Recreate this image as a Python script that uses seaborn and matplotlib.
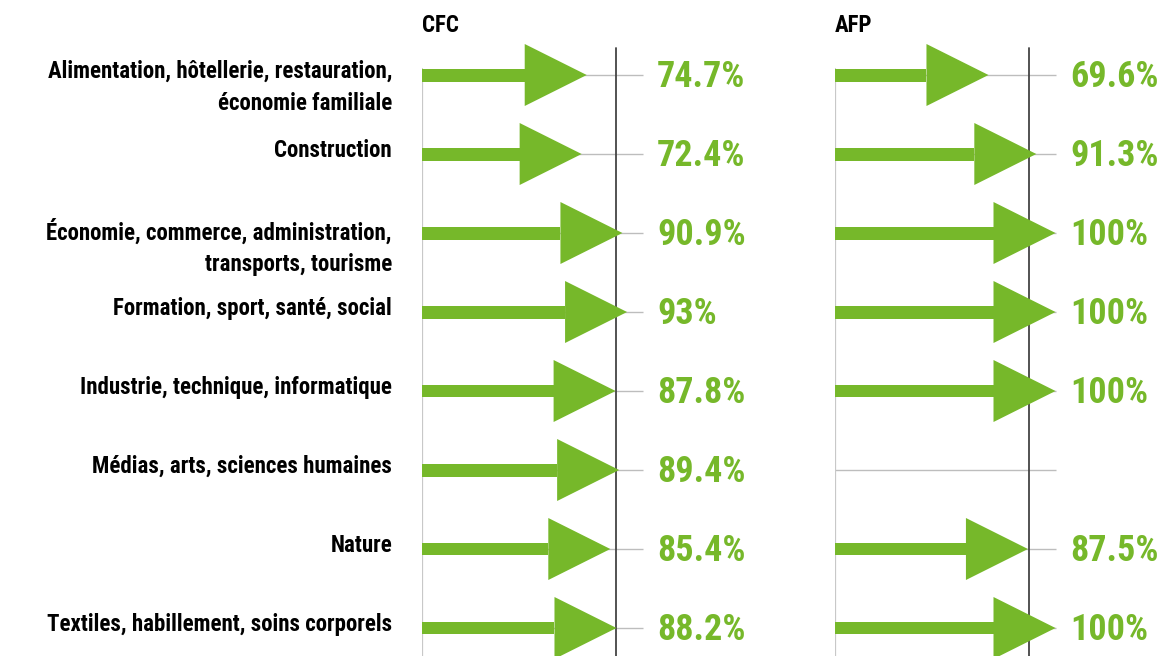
import numpy as np
import pandas as pd
import matplotlib
matplotlib.use("Agg")
import matplotlib.pyplot as plt
import seaborn as sns
from matplotlib import font_manager

categories = [
    "Alimentation, hôtellerie, restauration,\néconomie familiale",
    "Construction",
    "Économie, commerce, administration,\ntransports, tourisme",
    "Formation, sport, santé, social",
    "Industrie, technique, informatique",
    "Médias, arts, sciences humaines",
    "Nature",
    "Textiles, habillement, soins corporels",
]
cfc_values = [74.7, 72.4, 90.9, 93.0, 87.8, 89.4, 85.4, 88.2]
afp_values = [69.6, 91.3, 100.0, 100.0, 100.0, np.nan, 87.5, 100.0]
panel_titles = ["CFC", "AFP"]
ref_line = [87.8, 87.8]

sns.set_theme(style="white")
names = {f.name for f in font_manager.fontManager.ttflist}
FONT = "DejaVu Sans"
for cand in ["Liberation Sans Narrow", "Roboto Condensed", "Open Sans Condensed", "Liberation Sans"]:
    if cand in names:
        FONT = cand
        break
plt.rcParams["font.family"] = [FONT, "DejaVu Sans"]

GREEN = "#76b82a"
W, H = 1157, 656
fig = plt.figure(figsize=(W / 100, H / 100), dpi=100)

PX = 2.205          # pixels per percent
ROW = 79.0          # pixels per row
Y0 = 75.0           # pixel y of first row
HEAD_LEN = 62 / PX
HEAD_HALF = 31 / ROW
SHAFT = 13 / ROW

def py(p):
    return (p - Y0) / ROW

panels = [(422, 368, cfc_values), (835, W - 835, afp_values)]
for k, (left, width, vals) in enumerate(panels):
    ax = fig.add_axes([left / W, 0, width / W, 1])
    n = len(categories)
    df = pd.DataFrame({"cat": categories,
                       "shaft": [v - HEAD_LEN if not np.isnan(v) else np.nan for v in vals]})
    for i in range(n):
        ax.plot([0, 100], [i, i], color="#bdbdbd", lw=1.0, zorder=1, solid_capstyle="butt")
    sns.barplot(data=df, y="cat", x="shaft", order=categories, orient="h",
                color=GREEN, width=SHAFT, saturation=1, ax=ax, zorder=3,
                linewidth=0, errorbar=None)
    for i, v in enumerate(vals):
        if np.isnan(v):
            continue
        ax.fill([v - HEAD_LEN, v, v - HEAD_LEN], [i - HEAD_HALF, i, i + HEAD_HALF],
                color=GREEN, lw=0, zorder=3)
        ax.text(106.6, i + 0.02, f"{v:g}%", color=GREEN, fontsize=26, fontweight="bold",
                ha="left", va="center", zorder=4)
    bottom = py(H)
    ax.plot([0, 0], [py(69), bottom], color="#c8c8c8", lw=1.6, zorder=2)
    ax.plot([ref_line[k], ref_line[k]], [py(48), bottom], color="#444444", lw=1.3, zorder=2)
    ax.text(0, py(25), panel_titles[k], fontsize=16.5, fontweight="bold",
            ha="left", va="center", color="black")
    if k == 0:
        for i, c in enumerate(categories):
            ax.text((392 - left) / PX, py(60) + i,
                    c, fontsize=16.5, fontweight="bold", ha="right", va="top",
                    color="black", linespacing=1.48, multialignment="right", clip_on=False)
    ax.set_xlim(0, width / PX)
    ax.set_ylim(py(H), py(0))
    ax.set_axis_off()

fig.savefig("out.png", dpi=100)
